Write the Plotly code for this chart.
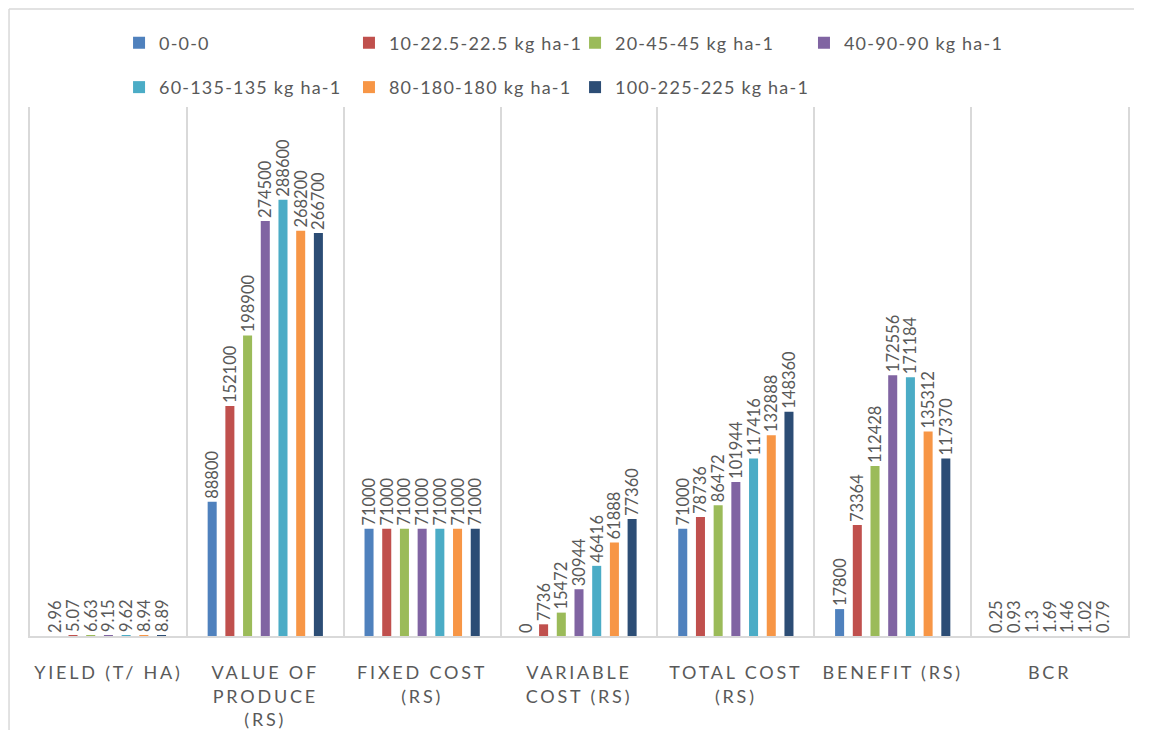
import plotly.graph_objects as go

categories = ["YIELD (T/ HA)", "VALUE OF PRODUCE (RS)", "FIXED COST (RS)",
              "VARIABLE COST (RS)", "TOTAL COST (RS)", "BENEFIT (RS)", "BCR"]
tick_labels = ["YIELD (T/ HA)", "VALUE OF<br>PRODUCE<br>(RS)", "FIXED COST<br>(RS)",
               "VARIABLE<br>COST (RS)", "TOTAL COST<br>(RS)", "BENEFIT (RS)", "BCR"]

series_names = ["0-0-0", "10-22.5-22.5 kg ha-1", "20-45-45 kg ha-1", "40-90-90 kg ha-1",
                "60-135-135 kg ha-1", "80-180-180 kg ha-1", "100-225-225 kg ha-1"]

yield_t = [2.96, 5.07, 6.63, 9.15, 9.62, 8.94, 8.89]
value_produce = [88800, 152100, 198900, 274500, 288600, 268200, 266700]
fixed_cost = [71000, 71000, 71000, 71000, 71000, 71000, 71000]
variable_cost = [0, 7736, 15472, 30944, 46416, 61888, 77360]
total_cost = [71000, 78736, 86472, 101944, 117416, 132888, 148360]
benefit = [17800, 73364, 112428, 172556, 171184, 135312, 117370]
bcr = [0.25, 0.93, 1.3, 1.69, 1.46, 1.02, 0.79]

colors = ["#4F81BD", "#C0504D", "#9BBB59", "#8064A2", "#4BACC6", "#F79646", "#2C4D75"]

measures = [yield_t, value_produce, fixed_cost, variable_cost, total_cost, benefit, bcr]

# legend placement (column, row) for each series
legend_cols = [0, 1, 2, 3, 0, 1, 2]
legend_rows = [0, 0, 0, 0, 1, 1, 1]
col_x = [0.0811, 0.2905, 0.4964, 0.7049]
row_y = [1.121, 1.037]

GRAY = "#595959"
LINE = "#D9D9D9"
FONT = "Lato"

fig = go.Figure()
for i, name in enumerate(series_names):
    vals = [m[i] for m in measures]
    lg = "legend" if i == 0 else f"legend{i+1}"
    fig.add_trace(go.Bar(
        x=categories, y=vals,
        name=f'<span style="letter-spacing:1.2px">{name}</span>',
        marker=dict(color=colors[i], line=dict(width=0)),
        text=[str(v) for v in vals], textposition="outside", textangle=-90,
        textfont=dict(family=FONT, size=16.5, color=GRAY),
        constraintext="none", cliponaxis=False,
        legend=lg,
    ))

layout_legends = {}
for i in range(len(series_names)):
    key = "legend" if i == 0 else f"legend{i+1}"
    layout_legends[key] = dict(
        x=col_x[legend_cols[i]], y=row_y[legend_rows[i]],
        xanchor="left", yanchor="middle", orientation="h",
        bgcolor="rgba(0,0,0,0)", borderwidth=0,
        font=dict(family=FONT, size=18, color=GRAY),
        itemwidth=30,
    )

# the page has an 8px body margin; keep the figure smaller than the window (no scrollbars)
fig.update_layout(
    width=1126, height=722,
    margin=dict(l=22, r=6, t=99, b=94, autoexpand=False),
    paper_bgcolor="white", plot_bgcolor="white",
    barmode="group", bargap=0.21, bargroupgap=0.49,
    showlegend=True,
    **layout_legends,
)

fig.update_xaxes(
    type="category",
    tickmode="array", tickvals=categories,
    ticktext=[f'<span style="letter-spacing:2.8px">{t}</span>' for t in tick_labels],
    tickson="boundaries", ticks="", showgrid=True, gridcolor=LINE, gridwidth=1.5,
    showline=True, linecolor=LINE, linewidth=1.5,
    tickfont=dict(family=FONT, size=18, color=GRAY),
    ticklabelstandoff=20, tickangle=0, automargin=False,
)
fig.update_yaxes(
    range=[0, 350000], showgrid=False, zeroline=False, showticklabels=False,
    showline=True, mirror=True, linecolor=LINE, linewidth=1.5, ticks="",
    automargin=False,
)

# chart-area frame: only its top and left edges fall inside the picture
fig.add_shape(type="line", xref="paper", yref="paper",
              x0=-0.0191, x1=1.2, y0=1.1853, y1=1.1853,
              line=dict(color=LINE, width=1.5), layer="below")
fig.add_shape(type="line", xref="paper", yref="paper",
              x0=-0.0191, x1=-0.0191, y0=-0.6, y1=1.1853,
              line=dict(color=LINE, width=1.5), layer="below")

fig.write_html("out.html")
